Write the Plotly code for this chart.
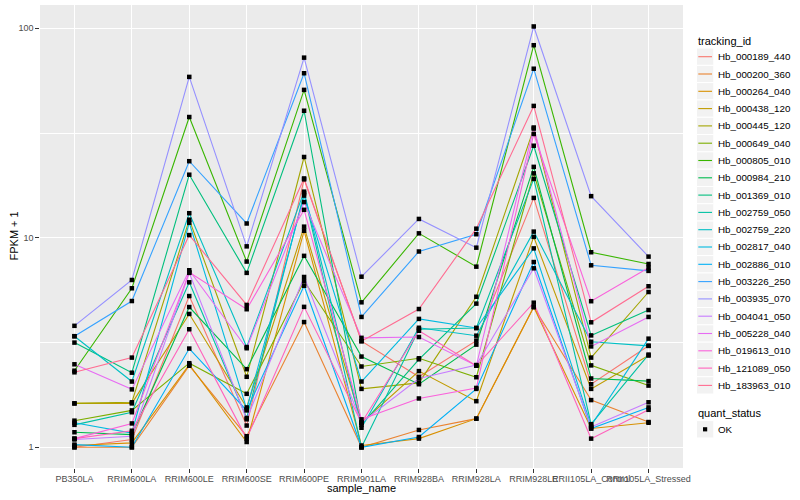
import plotly.graph_objects as go

samples = ["PB350LA", "RRIM600LA", "RRIM600LE", "RRIM600SE", "RRIM600PE", "RRIM901LA",
           "RRIM928BA", "RRIM928LA", "RRIM928LE", "RRII105LA_Control", "RRII105LA_Stressed"]

tracking_ids = ["Hb_000189_440", "Hb_000200_360", "Hb_000264_040", "Hb_000438_120", "Hb_000445_120",
                "Hb_000649_040", "Hb_000805_010", "Hb_000984_210", "Hb_001369_010", "Hb_002759_050",
                "Hb_002759_220", "Hb_002817_040", "Hb_002886_010", "Hb_003226_250", "Hb_003935_070",
                "Hb_004041_050", "Hb_005228_040", "Hb_019613_010", "Hb_121089_050", "Hb_183963_010"]

colors = ["#F8766D", "#EA8331", "#D89000", "#C09B00", "#A3A500", "#7CAE00", "#39B600", "#00BB4E",
          "#00BF7D", "#00C1A3", "#00BFC4", "#00BAE0", "#00B0F6", "#35A2FF", "#9590FF", "#C77CFF",
          "#E76BF3", "#FA62DB", "#FF62BC", "#FF6C91"]

# FPKM + 1 per sample (order of `samples`)
hb_000189_440 = [1.00, 1.09, 5.27, 1.27, 19.0, 3.21, 2.17, 3.23, 15.5, 2.00, 3.05]
hb_000200_360 = [1.00, 1.00, 2.45, 1.13, 3.96, 1.00, 1.21, 1.37, 4.67, 1.68, 1.32]
hb_000264_040 = [1.02, 1.05, 2.48, 1.06, 10.8, 1.02, 1.10, 1.37, 4.67, 1.23, 1.31]
hb_000438_120 = [1.62, 1.62, 4.33, 1.55, 11.3, 1.31, 2.31, 1.66, 10.1, 1.90, 2.74]
hb_000445_120 = [1.62, 1.64, 12.2, 2.17, 24.3, 1.90, 2.03, 5.23, 33.2, 2.68, 5.51]
hb_000649_040 = [1.34, 1.50, 2.52, 1.80, 6.2, 2.43, 2.66, 2.16, 20.3, 2.46, 1.97]
hb_000805_010 = [2.32, 5.74, 37.7, 7.7, 50.8, 4.92, 10.5, 7.28, 83.0, 8.53, 7.50]
hb_000984_210 = [1.18, 1.15, 4.67, 2.36, 8.2, 2.71, 2.00, 3.09, 21.8, 2.13, 2.07]
hb_001369_010 = [3.16, 2.27, 20.0, 6.8, 40.4, 1.28, 2.63, 4.85, 27.5, 3.42, 4.52]
hb_002759_050 = [1.28, 1.47, 6.13, 1.38, 16.3, 1.00, 3.66, 3.71, 19.1, 1.29, 2.77]
hb_002759_220 = [3.39, 2.06, 13.1, 3.01, 16.6, 1.24, 3.72, 3.41, 10.7, 3.19, 3.05]
hb_002817_040 = [1.31, 1.17, 11.8, 1.52, 15.9, 2.06, 4.10, 3.71, 8.9, 1.27, 3.30]
hb_002886_010 = [1.03, 1.00, 2.96, 1.50, 5.9, 1.00, 1.12, 1.90, 7.66, 1.23, 1.55]
hb_003226_250 = [3.39, 4.99, 23.2, 11.7, 61.0, 4.19, 8.6, 10.4, 64.1, 7.39, 6.95]
hb_003935_070 = [3.80, 6.29, 58.6, 9.1, 72.4, 6.52, 12.3, 8.97, 102.0, 15.8, 8.13]
hb_004041_050 = [1.09, 1.13, 6.8, 1.36, 6.5, 1.31, 2.13, 2.47, 7.15, 1.25, 1.64]
hb_005228_040 = [2.49, 1.89, 7.0, 2.97, 14.8, 3.33, 3.36, 2.45, 33.6, 3.03, 4.19]
hb_019613_010 = [1.10, 1.30, 6.84, 4.56, 13.6, 1.36, 1.71, 1.92, 31.3, 4.98, 7.20]
hb_121089_050 = [1.10, 1.20, 3.66, 1.10, 4.68, 1.31, 3.60, 2.45, 4.90, 1.10, 1.51]
hb_183963_010 = [2.28, 2.68, 10.3, 4.78, 19.2, 3.21, 4.57, 11.05, 42.6, 3.95, 5.87]

series = [hb_000189_440, hb_000200_360, hb_000264_040, hb_000438_120, hb_000445_120,
          hb_000649_040, hb_000805_010, hb_000984_210, hb_001369_010, hb_002759_050,
          hb_002759_220, hb_002817_040, hb_002886_010, hb_003226_250, hb_003935_070,
          hb_004041_050, hb_005228_040, hb_019613_010, hb_121089_050, hb_183963_010]

FONT = "Liberation Sans, Arial, Helvetica, sans-serif"
W, H = 800, 500
L, R, T, B = 40, 683, 5, 468  # panel in pixels

def px2x(px):
    return (px - L) / (R - L)

def py2y(py):
    return (B - py) / (B - T)

fig = go.Figure()
for name, vals, col in zip(tracking_ids, series, colors):
    fig.add_trace(go.Scatter(x=samples, y=vals, mode="lines", name=name,
                             line=dict(color=col, width=1.1), showlegend=False))
allx, ally = [], []
for vals in series:
    allx += samples
    ally += vals
fig.add_trace(go.Scatter(x=allx, y=ally, mode="markers", showlegend=False,
                         marker=dict(symbol="square", size=4.5, color="black")))

shapes = []
annotations = []
LEG_FS = 9.8
# Legend: tracking_id
annotations.append(dict(x=px2x(695.5), y=py2y(40.7), xref="paper", yref="paper", text="tracking_id",
                        showarrow=False, xanchor="left", yanchor="middle",
                        font=dict(family=FONT, size=11, color="black")))
key_w = 17.3
for i, (name, col) in enumerate(zip(tracking_ids, colors)):
    cy = 56.7 + i * 17.3
    shapes.append(dict(type="rect", xref="paper", yref="paper",
                       x0=px2x(696.5), x1=px2x(696.5 + key_w), y0=py2y(cy - 8.65), y1=py2y(cy + 8.65),
                       fillcolor="#F2F2F2", line=dict(color="white", width=1)))
    shapes.append(dict(type="line", xref="paper", yref="paper",
                       x0=px2x(698.3), x1=px2x(712.0), y0=py2y(cy), y1=py2y(cy),
                       line=dict(color=col, width=1.1)))
    annotations.append(dict(x=px2x(716.0), y=py2y(cy), xref="paper", yref="paper", text=name,
                            showarrow=False, xanchor="left", yanchor="middle",
                            font=dict(family=FONT, size=LEG_FS, color="black")))
# Legend: quant_status
annotations.append(dict(x=px2x(695.5), y=py2y(412.7), xref="paper", yref="paper", text="quant_status",
                        showarrow=False, xanchor="left", yanchor="middle",
                        font=dict(family=FONT, size=11, color="black")))
cy = 429.3
shapes.append(dict(type="rect", xref="paper", yref="paper",
                   x0=px2x(696.5), x1=px2x(696.5 + key_w), y0=py2y(cy - 8.65), y1=py2y(cy + 8.65),
                   fillcolor="#F2F2F2", line=dict(color="white", width=1)))
shapes.append(dict(type="rect", xref="paper", yref="paper",
                   x0=px2x(703.0), x1=px2x(707.2), y0=py2y(cy - 2.1), y1=py2y(cy + 2.1),
                   fillcolor="black", line=dict(width=0)))
annotations.append(dict(x=px2x(716.0), y=py2y(cy), xref="paper", yref="paper", text="OK",
                        showarrow=False, xanchor="left", yanchor="middle",
                        font=dict(family=FONT, size=LEG_FS, color="black")))
# Axis titles
annotations.append(dict(x=0.5, y=py2y(488), xref="paper", yref="paper", text="sample_name",
                        showarrow=False, xanchor="center", yanchor="middle",
                        font=dict(family=FONT, size=11, color="black")))
annotations.append(dict(x=px2x(13), y=0.5, xref="paper", yref="paper", text="FPKM + 1",
                        showarrow=False, xanchor="center", yanchor="middle", textangle=-90,
                        font=dict(family=FONT, size=11, color="black")))

TICK_FS = 9.0
fig.update_layout(
    width=W, height=H,
    margin=dict(l=L, r=W - R, t=T, b=H - B, autoexpand=False),
    paper_bgcolor="white", plot_bgcolor="#EBEBEB",
    showlegend=False,
    shapes=shapes, annotations=annotations,
    font=dict(family=FONT),
    xaxis=dict(type="category", categoryorder="array", categoryarray=samples,
               range=[-0.6, len(samples) - 0.4],
               tickmode="array", tickvals=samples, ticktext=samples, tickangle=0,
               showgrid=True, gridcolor="white", gridwidth=1.1, zeroline=False,
               ticks="outside", ticklen=3.7, tickwidth=1.1, tickcolor="#333333",
               ticklabelstandoff=-2,
               tickfont=dict(family=FONT, size=TICK_FS, color="#4D4D4D"),
               showline=False, automargin=False, fixedrange=True),
    yaxis=dict(type="log", range=[-0.0988, 2.111],
               tickmode="array", tickvals=[1, 10, 100], ticktext=["1", "10", "100"],
               showgrid=True, gridcolor="white", gridwidth=1.1, zeroline=False,
               ticks="outside", ticklen=3.7, tickwidth=1.1, tickcolor="#333333",
               tickfont=dict(family=FONT, size=TICK_FS, color="#4D4D4D"),
               minor=dict(tickmode="array", tickvals=[3.1623, 31.623], showgrid=True,
                          gridcolor="white", gridwidth=0.55, ticks=""),
               showline=False, automargin=False, fixedrange=True),
)

fig.write_html("out.html", config={"displayModeBar": False},
               post_script="document.body.style.margin='0px';")
